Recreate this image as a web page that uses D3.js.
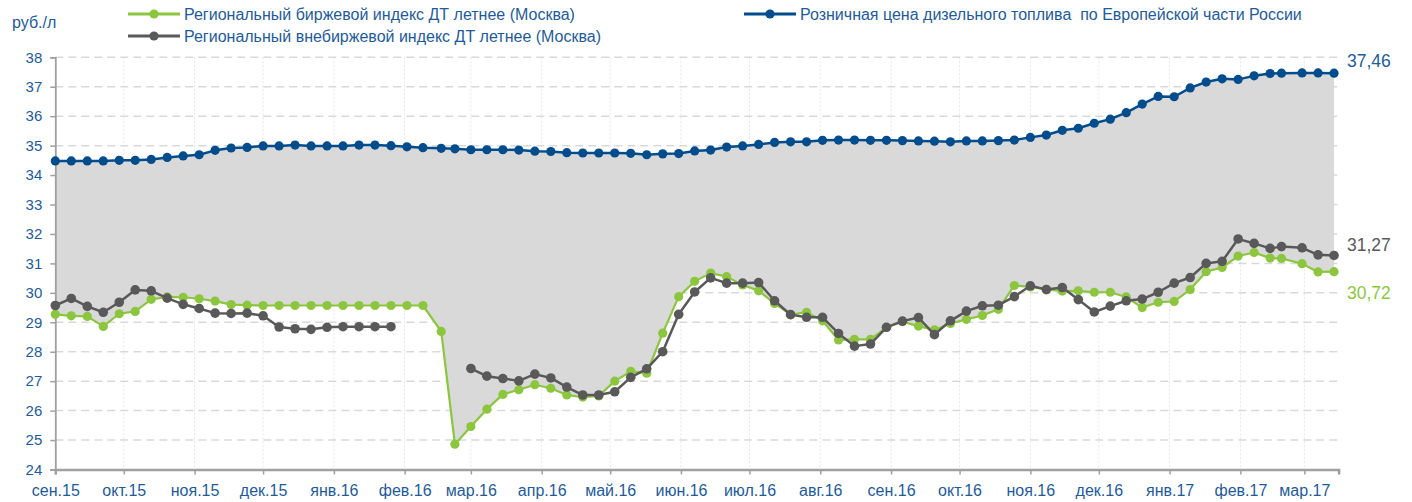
<!DOCTYPE html>
<html>
<head>
<meta charset="utf-8">
<script src="https://cdn.jsdelivr.net/npm/d3@7"></script>
<style>
  body { margin: 0; background: #fff; }
  svg { display: block; font-family: "Liberation Sans", Arial, sans-serif; }
</style>
</head>
<body>
<svg id="chart" width="1412" height="502"></svg>
<script>
// Observation dates (weekly)
const dates = [
  "2015-09-01","2015-09-08","2015-09-15","2015-09-22","2015-09-29","2015-10-06","2015-10-13","2015-10-20","2015-10-27",
  "2015-11-03","2015-11-10","2015-11-17","2015-11-24","2015-12-01","2015-12-08","2015-12-15","2015-12-22","2015-12-29",
  "2016-01-05","2016-01-12","2016-01-19","2016-01-26","2016-02-02","2016-02-09","2016-02-17","2016-02-23","2016-03-01",
  "2016-03-08","2016-03-15","2016-03-22","2016-03-29","2016-04-05","2016-04-12","2016-04-19","2016-04-26","2016-05-03",
  "2016-05-10","2016-05-17","2016-05-24","2016-05-31","2016-06-07","2016-06-14","2016-06-21","2016-06-28","2016-07-05",
  "2016-07-12","2016-07-19","2016-07-26","2016-08-02","2016-08-09","2016-08-16","2016-08-23","2016-08-30","2016-09-06",
  "2016-09-13","2016-09-20","2016-09-27","2016-10-04","2016-10-11","2016-10-18","2016-10-25","2016-11-01","2016-11-08",
  "2016-11-15","2016-11-22","2016-11-29","2016-12-06","2016-12-13","2016-12-20","2016-12-27","2017-01-03","2017-01-10",
  "2017-01-17","2017-01-24","2017-01-31","2017-02-07","2017-02-14","2017-02-19","2017-02-28","2017-03-07","2017-03-14"
];

// Розничная цена дизельного топлива по Европейской части России, руб./л
const retailPrice = [
  34.48,34.48,34.48,34.48,34.50,34.50,34.53,34.60,34.65,
  34.69,34.84,34.92,34.94,34.99,34.99,35.02,34.99,34.99,
  34.99,35.02,35.02,35.00,34.96,34.93,34.91,34.89,34.86,
  34.86,34.86,34.85,34.81,34.80,34.76,34.75,34.75,34.75,
  34.74,34.69,34.72,34.73,34.82,34.85,34.95,34.99,35.04,
  35.11,35.13,35.13,35.18,35.19,35.19,35.18,35.18,35.17,
  35.16,35.15,35.13,35.16,35.16,35.17,35.19,35.28,35.36,
  35.52,35.59,35.76,35.90,36.12,36.41,36.67,36.66,36.96,
  37.16,37.27,37.25,37.37,37.45,37.46,37.47,37.47,37.46
];

// Региональный биржевой индекс ДТ летнее (Москва)
const exchangeIndex = [
  29.27,29.22,29.20,28.86,29.29,29.37,29.78,29.86,29.85,
  29.80,29.72,29.60,29.58,29.57,29.57,29.57,29.57,29.57,
  29.57,29.57,29.57,29.57,29.57,29.57,28.69,24.86,25.46,
  26.05,26.55,26.71,26.88,26.76,26.53,26.46,26.50,27.00,
  27.33,27.27,28.63,29.87,30.39,30.67,30.55,30.27,30.07,
  29.64,29.26,29.34,29.05,28.40,28.42,28.42,28.83,29.02,
  28.87,28.74,28.96,29.10,29.23,29.44,30.25,30.20,30.12,
  30.06,30.07,30.02,30.02,29.86,29.50,29.68,29.71,30.11,
  30.72,30.86,31.25,31.37,31.18,31.17,30.99,30.71,30.72
];

// Региональный внебиржевой индекс ДТ летнее (Москва); null = нет котировок
const otcIndex = [
  29.57,29.81,29.54,29.34,29.68,30.10,30.07,29.82,29.61,
  29.47,29.31,29.30,29.31,29.22,28.84,28.78,28.76,28.83,
  28.85,28.85,28.85,28.85,null,null,null,null,27.43,
  27.17,27.09,27.01,27.24,27.11,26.80,26.53,26.53,26.64,
  27.13,27.42,28.00,29.27,30.03,30.51,30.33,30.33,30.35,
  29.73,29.26,29.17,29.17,28.62,28.19,28.26,28.83,29.04,
  29.16,28.58,29.05,29.38,29.56,29.58,29.87,30.24,30.11,
  30.18,29.77,29.35,29.55,29.73,29.79,30.02,30.33,30.52,
  31.00,31.07,31.83,31.68,31.51,31.57,31.53,31.29,31.27
];

// Axis ticks
const yTicks = [24,25,26,27,28,29,30,31,32,33,34,35,36,37,38];
const monthTicks = [
  "2015-09-01","2015-10-01","2015-11-01","2015-12-01","2016-01-01","2016-02-01","2016-03-01",
  "2016-04-01","2016-05-01","2016-06-01","2016-07-01","2016-08-01","2016-09-01","2016-10-01",
  "2016-11-01","2016-12-01","2017-01-01","2017-02-01","2017-03-01"
];
const monthLabels = [
  "сен.15","окт.15","ноя.15","дек.15","янв.16","фев.16","мар.16","апр.16","май.16","июн.16",
  "июл.16","авг.16","сен.16","окт.16","ноя.16","дек.16","янв.17","фев.17","мар.17"
];

const seriesNames = {
  exchange: "Региональный биржевой индекс ДТ летнее (Москва)",
  otc: "Региональный внебиржевой индекс ДТ летнее (Москва)",
  retail: "Розничная цена дизельного топлива  по Европейской части России"
};

const COLORS = {
  retail: "#004c8c",
  exchange: "#8cc63f",
  otc: "#595959",
  fill: "#d9d9d9",
  text: "#1f5b98",
  grid: "#d9d9d9",
  axis: "#a0a0a0"
};

const parse = d3.timeParse("%Y-%m-%d");
const rows = dates.map((d, i) => ({
  date: parse(d),
  retail: retailPrice[i],
  exchange: exchangeIndex[i],
  otc: otcIndex[i]
}));

const svg = d3.select("#chart");

const x = d3.scaleTime()
  .domain([parse("2015-09-01"), parse("2017-03-16")])
  .range([55.3, 1338.6]);
const y = d3.scaleLinear().domain([24, 38]).range([469.5, 57.3]);

const monthDates = monthTicks.map(parse);

// Grid
const grid = svg.append("g");
grid.selectAll("line.v").data(monthDates).join("line")
  .attr("x1", d => x(d)).attr("x2", d => x(d))
  .attr("y1", y(38)).attr("y2", y(24))
  .attr("stroke", "#e6e6e6").attr("stroke-width", 1).attr("stroke-dasharray", "2,2");
grid.selectAll("line.h").data(yTicks.filter(v => v > 24)).join("line")
  .attr("x1", x.range()[0]).attr("x2", x.range()[1])
  .attr("y1", d => y(d)).attr("y2", d => y(d))
  .attr("stroke", COLORS.grid).attr("stroke-width", 1.5).attr("stroke-dasharray", "8,5");

// Spread between retail price and exchange index
svg.append("path").datum(rows)
  .attr("fill", COLORS.fill)
  .attr("d", d3.area().x(d => x(d.date)).y0(d => y(d.exchange)).y1(d => y(d.retail)));

// Axes
const yAxis = svg.append("g").attr("transform", `translate(${x.range()[0]},0)`)
  .call(d3.axisLeft(y).tickValues(yTicks).tickSize(5).tickPadding(8).tickFormat(d3.format("d")));
yAxis.select(".domain").attr("stroke", COLORS.axis).attr("stroke-width", 1.8);
yAxis.selectAll(".tick line").attr("stroke", COLORS.axis).attr("stroke-width", 1.5);
yAxis.selectAll(".tick text").attr("fill", COLORS.text).attr("font-size", 15)
  .attr("font-family", "Liberation Sans, Arial, sans-serif");

const xAxis = svg.append("g").attr("transform", `translate(0,${y(24)})`)
  .call(d3.axisBottom(x).tickValues(monthDates).tickSize(5).tickFormat((d, i) => monthLabels[i]));
xAxis.select(".domain").attr("stroke", COLORS.axis).attr("stroke-width", 2.5);
xAxis.selectAll(".tick line").attr("stroke", COLORS.axis).attr("stroke-width", 1.5);
xAxis.selectAll(".tick text").attr("fill", COLORS.text).attr("font-size", 16)
  .attr("font-family", "Liberation Sans, Arial, sans-serif")
  .attr("y", 26).attr("dy", 0);

// Series lines with markers
function drawSeries(key, color, width, r) {
  const g = svg.append("g");
  g.append("path").datum(rows)
    .attr("fill", "none").attr("stroke", color).attr("stroke-width", width)
    .attr("stroke-linejoin", "round")
    .attr("d", d3.line().defined(d => d[key] != null).x(d => x(d.date)).y(d => y(d[key])));
  g.selectAll("circle").data(rows.filter(d => d[key] != null)).join("circle")
    .attr("cx", d => x(d.date)).attr("cy", d => y(d[key])).attr("r", r)
    .attr("fill", color);
}
drawSeries("exchange", COLORS.exchange, 2.2, 4.6);
drawSeries("otc", COLORS.otc, 2.5, 4.8);
drawSeries("retail", COLORS.retail, 2.5, 4.6);

// End-of-series value labels
const fmt = v => d3.format(".2f")(v).replace(".", ",");
const last = rows[rows.length - 1];
[
  { key: "retail", color: COLORS.text, dy: -12 },
  { key: "otc", color: COLORS.otc, dy: -11 },
  { key: "exchange", color: COLORS.exchange, dy: 21 }
].forEach(s => {
  svg.append("text")
    .attr("x", x(last.date) + 13)
    .attr("y", y(last[s.key]) + s.dy)
    .attr("dy", "0.36em")
    .attr("font-size", 17.5)
    .attr("fill", s.color)
    .text(fmt(last[s.key]));
});

// Unit label
svg.append("text").attr("x", 12).attr("y", 28).attr("font-size", 16)
  .attr("fill", COLORS.text).text("руб./л");

// Legend
const legend = [
  { key: "exchange", x: 128, y: 14, color: COLORS.exchange },
  { key: "otc", x: 128, y: 36, color: COLORS.otc },
  { key: "retail", x: 744, y: 14, color: COLORS.retail }
];
legend.forEach(l => {
  const g = svg.append("g").attr("transform", `translate(${l.x},${l.y})`);
  g.append("line").attr("x1", 0).attr("x2", 52).attr("stroke", l.color).attr("stroke-width", 3);
  g.append("circle").attr("cx", 26).attr("r", 4.6).attr("fill", l.color);
  g.append("text").attr("x", 56).attr("dy", "0.36em").attr("font-size", 16)
    .attr("fill", COLORS.text).attr("xml:space", "preserve").style("white-space", "pre")
    .text(seriesNames[l.key]);
});
</script>
</body>
</html>
